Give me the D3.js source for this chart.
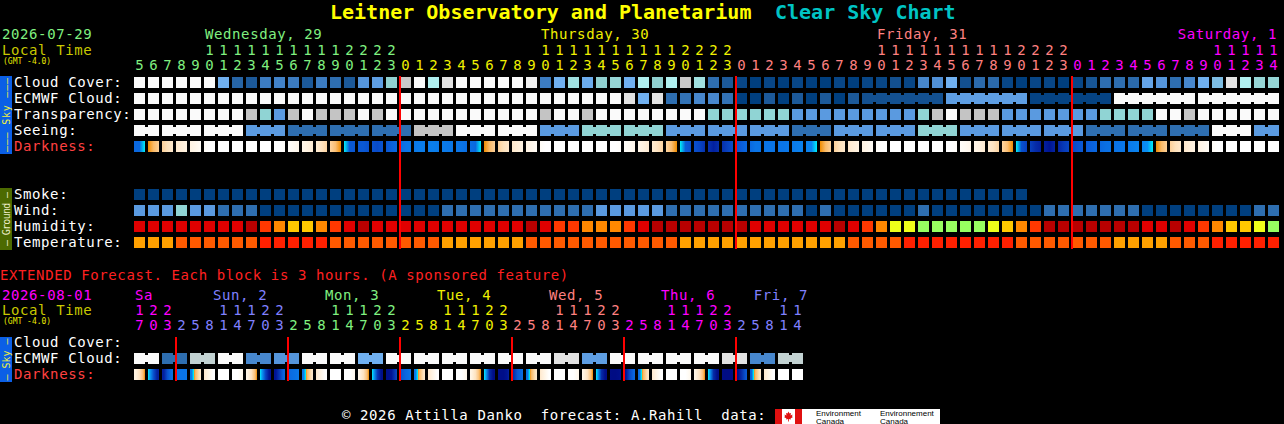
<!DOCTYPE html>
<html>
<head>
<meta charset="utf-8">
<script src="https://cdnjs.cloudflare.com/ajax/libs/d3/7.8.5/d3.min.js"></script>
<style>
  html, body { margin: 0; padding: 0; background: #000; }
  svg { display: block; }
  text { font-family: "DejaVu Sans Mono", monospace; }
</style>
</head>
<body>
<div class="chart"></div>
<script>
var W = 1284, H = 424;

// ---- main forecast, one block per hour
var mainDate = "2026-07-29";
var mainDayNames = ["Wednesday, 29", "Thursday, 30", "Friday, 31", "Saturday, 1"];
var mainDayHours = [[5, 23], [0, 23], [0, 23], [0, 14]];
var mainDayColors = ["#80f080", "#f0f000", "#ff8080", "#ff00ff"];

var skyRows = ["Cloud Cover:", "ECMWF Cloud:", "Transparency:", "Seeing:", "Darkness:"];
var groundRows = ["Smoke:", "Wind:", "Humidity:", "Temperature:"];

// cloud cover, percent
var cloudCover = [100, 100, 100, 100, 100, 100, 60, 25, 18, 37, 40, 37, 18, 37, 30, 18, 48, 52, 70, 88,
  100, 80, 95, 100, 100, 100, 100, 100, 98, 37, 60, 75, 58, 70, 72, 60, 80, 70, 80, 88, 75, 30, 18,
  5, 0, 5, 0, 5, 0, 0, 5, 0, 5, 5, 12, 5, 42, 46, 60, 12, 28, 28, 5, 0, 5, 5, 0,
  5, 15, 30, 30, 28, 55, 48, 30, 42, 60, 64, 95, 80, 72, 72];
// ECMWF cloud, percent: hourly, then 6-hourly
var ecmwfHourly = [100, 100, 100, 100, 100, 100, 100, 100, 100, 100, 100, 100, 100, 100, 100, 100, 100, 100, 100, 100,
  100, 100, 100, 100, 100, 100, 100, 100, 100, 100, 100, 100, 100, 100, 100, 95, 60, 95, 30, 32, 42, 42, 32,
  0, 0, 18, 0, 18, 0, 18, 0, 18];
var ecmwf6h = [12, 52, 3, 100, 100];
// transparency 0 too cloudy .. 5 transparent
var transparency = [0, 0, 0, 0, 0, 0, 0, 0, 1, 2, 3, 1, 0, 1, 1, 1, 0, 1, 0,
  0, 0, 0, 0, 0, 0, 0, 0, 0, 0, 1, 0, 0, 1, 0, 0, 0, 0, 0, 0, 0, 0, 2, 2, 2, 2, 2, 2,
  3, 3, 3, 3, 3, 3, 3, 3, 3, 2, 1, 0, 1, 1, 1, 3, 3, 3, 3, 3, 3, 3, 2, 2, 2, 2, 0, 0, 1, 0, 0, 0, 0, 0, 0];
// seeing 0 too cloudy .. 5 excellent, 3-hourly
var seeing = [0, 0, 0, 3, 4, 4, 4, 1, 0, 0, 3, 2, 2, 3, 3, 3, 4, 3, 3, 2, 3, 3, 3, 4, 4, 4, 0, 3];
// darkness: < 0 daylight / twilight, >= 0 night (higher is darker)
var darkness = [2.5, -1.2, -2.2, -2.8, -3.3, -4, -4, -4, -4, -4, -4, -3.5, -3.0, -2.3, -1.3, 3.2, 3.2, 3.8, 2.8,
  2.0, 1.6, 1.5, 1.8, 2.0, 2.5, -1.2, -2.2, -2.8, -3.3, -4, -4, -4, -4, -4, -4, -3.5, -3.0, -2.3, -1.3,
  3.0, 4.0, 5.5, 4.2, 3.0, 2.0, 2.0, 2.0, 1.5, 1.2, -1.2, -2.2, -2.8, -3.3, -4, -4, -4, -4, -4, -4, -3.5, -3.0, -2.3, -1.3,
  3.5, 5.0, 6.0, 4.5, 3.5, 2.8, 2.2, 2.0, 1.5, 0.8, -1.2, -2.2, -2.8, -3.3, -4, -4, -4, -4, -4];
// smoke, ug/m3
var smoke = [0, 0, 0, 0, 0, 0, 0, 0, 0, 0, 0, 0, 0, 0, 0, 0, 0, 0, 0, 0, 0, 0, 0, 0, 0, 0, 0, 0, 0, 0, 0, 0,
  0, 0, 0, 0, 0, 0, 0, 0, 0, 0, 0, 0, 0, 0, 0, 0, 0, 0, 0, 0, 0, 0, 0, 0, 0, 0, 0, 0, 0, 0, 0, 0];
// wind, mph
var wind = [14, 14, 14, 20, 14, 14, 8, 8, 8, 3, 3, 3, 3, 3, 3, 3, 3, 3, 3, 3, 3, 3,
  8, 8, 8, 8, 8, 8, 8, 8, 8, 8, 8, 14, 14, 14, 14, 14, 8, 8, 8, 8, 8, 8, 8, 8, 8, 8,
  3, 8, 3, 3, 3, 3, 3, 3, 8, 3, 3, 3, 3, 3, 3, 3, 3, 8, 8, 8, 8, 8, 8, 8, 3, 3, 3, 3, 3, 3, 3, 3, 8, 8];
// humidity, percent
var humidity = [90, 90, 90, 90, 90, 90, 90, 90, 97, 82, 72, 62, 62, 72, 82, 90, 97,
  90, 90, 90, 90, 90, 90, 90, 90, 90, 90, 90, 97, 90, 82, 82, 72, 72, 72, 82, 90,
  97, 97, 97, 97, 97, 97, 97, 90, 90, 90, 90, 90, 90, 97, 90, 82, 72, 52, 52,
  42, 42, 42, 42, 42, 52, 62, 72, 82, 97, 97, 97, 97, 97, 97, 97, 90, 90, 97, 90, 82, 72, 62, 62, 52, 42];
// temperature, F
var temperature = [61, 61, 61, 66, 66, 66, 66, 66, 66, 71, 71, 71, 71, 71, 66, 66, 66, 66, 66, 66, 66, 66,
  61, 61, 61, 61, 61, 61, 66, 66, 66, 66, 66, 66, 66, 66, 66, 66, 66,
  61, 61, 61, 61, 61, 61, 61, 61, 61, 61, 61, 61, 66, 66, 66, 66,
  71, 71, 71, 71, 71, 71, 71, 71, 66, 66, 66, 66, 66, 66, 66, 61, 61, 61, 61, 66, 66, 66, 71, 71, 71, 71, 71];

// ---- extended forecast, one block per 3 hours
var extDate = "2026-08-01";
var extDayNames = ["Sa", "Sun, 2", "Mon, 3", "Tue, 4", "Wed, 5", "Thu, 6", "Fri, 7"];
var extDayHours = [[17, 23], [2, 23], [2, 23], [2, 23], [2, 23], [2, 23], [2, 14]];
var extDayColors = ["#ff00ff", "#8080ff", "#80f080", "#f0f000", "#ff8080", "#ff00ff", "#8080ff"];
var extRows = ["Cloud Cover:", "ECMWF Cloud:", "Darkness:"];
var extCloud = [];
var extEcmwf = [100, 30, 86, 100, 42, 48, 100, 100, 60, 100, 100, 100, 100, 100, 100, 95, 52, 100, 100, 100, 100, 95, 42, 86];
var extDarkness = [
  [-3.0, -2.3, -1.3], [0.5, 3.5, 5.5], [5.5, 3.5, 2.2],
  [2.0, 2.0, 2.0], [1.5, -1.2, -2.2], [-2.8, -3.3, -4], [-4, -4, -4], [-4, -4, -3.5], [-3.0, -2.3, -1.3], [0.5, 4.0, 6.0], [6.0, 4.5, 2.8],
  [2.4, 2.2, 2.0], [1.5, -1.2, -2.2], [-2.8, -3.3, -4], [-4, -4, -4], [-4, -4, -3.5], [-3.0, -2.3, -1.3], [0.5, 4.5, 6.2], [6.2, 6.0, 4.5],
  [3.2, 2.6, 2.2], [1.5, -1.2, -2.2], [-2.8, -3.3, -4], [-4, -4, -4], [-4, -4, -3.5], [-3.0, -2.3, -1.3], [0.5, 5.0, 6.3], [6.3, 6.3, 6.0],
  [4.8, 3.2, 2.5], [1.8, -1.2, -2.2], [-2.8, -3.3, -4], [-4, -4, -4], [-4, -4, -3.5], [-3.0, -2.3, -1.3], [0.5, 5.0, 6.3], [6.4, 6.4, 6.3],
  [6.0, 4.0, 2.8], [2.0, -1.2, -2.2], [-2.8, -3.3, -4], [-4, -4, -4], [-4, -4, -3.5], [-3.0, -2.3, -1.3], [0.5, 5.0, 6.3], [6.4, 6.4, 6.4],
  [6.3, 5.0, 3.5], [2.5, -1.2, -2.2], [-2.8, -3.3, -4], [-4, -4, -4], [-4, -4, -4]
];

// ---- colour scales
var cloudColor = d3.scaleLinear()
  .domain([0, 20, 30, 40, 50, 60, 70, 80, 88, 95, 100])
  .range(["#003f7f", "#1f5c9c", "#2e6eb0", "#4282c8", "#5a9ae0", "#70b0f0", "#90d0d0", "#b0f0f0", "#c8c8c8", "#e2e2e2", "#fafafa"])
  .clamp(true);
var qualityColor = d3.scaleOrdinal().domain([0, 1, 2, 3, 4, 5])
  .range(["#fafafa", "#c4c4c4", "#90d4d4", "#5a9ae0", "#2e6eb0", "#003f7f"]);
var smokeColor = d3.scaleThreshold().domain([2]).range(["#003f7f", "#2e6eb0"]);
var windColor = d3.scaleThreshold().domain([6, 12, 17, 29])
  .range(["#003f7f", "#2e6eb0", "#5a9ae0", "#90d4d4", "#c8c8c8"]);
var humidColor = d3.scaleThreshold().domain([35, 45, 55, 65, 75, 85, 95])
  .range(["#50e0a0", "#98ff60", "#eeff1a", "#ffc800", "#ff8800", "#ff3800", "#e00000", "#b80000"]);
var tempColor = d3.scaleThreshold().domain([59, 64, 68, 73])
  .range(["#ffd000", "#ffa000", "#ff5a00", "#ff2000", "#d00000"]);
var darkColor = d3.scaleLinear()
  .domain([-4, -3.5, -3, -2.5, -2, -1.5, -1, -0.5, -0.01, 0, 0.3, 1, 2, 3, 4, 5, 6, 6.5])
  .range(["#ffffff", "#fffaf2", "#fff2e0", "#fee8cc", "#fddcb0", "#fcc88a", "#f8b050", "#f49a20", "#f08c00",
    "#00f0f8", "#08a8f8", "#0a88f0", "#0a74e6", "#0a5cd8", "#0846c4", "#062ca8", "#001494", "#000a80"])
  .clamp(true);

var charW = 9.03;

var svg = d3.select(".chart").append("svg").attr("width", W).attr("height", H);
svg.append("rect").attr("width", W).attr("height", H).attr("fill", "#000");
var defs = svg.append("defs");

function text(g, x, y, str, color, size) {
  var t = g.append("text").attr("x", x).attr("y", y).attr("fill", color)
    .style("font-size", (size || 14) + "px").text(str);
  if (!size || size === 14) t.style("letter-spacing", "0.6px");
  return t;
}

function buildColumns(hours, step) {
  var cols = [];
  hours.forEach(function(h, d) {
    d3.range(h[0], h[1] + 1, step).forEach(function(hour) {
      cols.push({ id: cols.length, day: d, hour: hour });
    });
  });
  return cols;
}

function bandX(cols) {
  return d3.scaleBand().domain(cols.map(function(c) { return c.id; }))
    .range([134, 134 + cols.length * 14 - 3]).paddingInner(3 / 14);
}

function bandY(rows, top) {
  return d3.scaleBand().domain(rows).range([top, top + rows.length * 16 - 5]).paddingInner(5 / 16);
}

function hourlySpans(values, start) {
  return values.map(function(v, i) { return { start: start + i, len: 1, value: v }; });
}

function groupSpans(values, start, len) {
  return values.map(function(v, i) { return { start: start + i * len, len: len, value: v }; });
}

function drawSpans(g, spans, x, top, h, color) {
  var bw = x.bandwidth(), step = x.step();
  var cells = [], links = [];
  spans.forEach(function(s) {
    for (var k = 0; k < s.len; k++) {
      cells.push({ col: s.start + k, value: s.value });
      if (k < s.len - 1) links.push({ col: s.start + k, value: s.value });
    }
  });
  g.append("g").selectAll("rect").data(cells).enter().append("rect")
    .attr("x", function(d) { return x(d.col); })
    .attr("y", top).attr("width", bw).attr("height", h)
    .attr("fill", function(d) { return color(d.value); });
  g.append("g").selectAll("rect").data(links).enter().append("rect")
    .attr("x", function(d) { return x(d.col) + bw; })
    .attr("y", top + 2).attr("width", step - bw).attr("height", h - 4)
    .attr("fill", function(d) { return color(d.value); });
}

function edgeValue(inner, outer) {
  if (outer === undefined) return inner;
  if ((inner >= 0) === (outer >= 0)) return (inner + outer) / 2;
  return inner >= 0 ? 0 : -0.01;
}

function darkStops(samples, b, n) {
  var first = b * n, last = first + n - 1, stops = [];
  stops.push([0, edgeValue(samples[first], samples[first - 1])]);
  for (var j = 0; j < n; j++) {
    var v = samples[first + j];
    if (j > 0) {
      var p = samples[first + j - 1];
      if ((p >= 0) !== (v >= 0)) {
        stops.push([j / n, p >= 0 ? 0 : -0.01]);
        stops.push([j / n, v >= 0 ? 0 : -0.01]);
      }
    }
    stops.push([(j + 0.5) / n, v]);
  }
  stops.push([1, edgeValue(samples[last], samples[last + 1])]);
  return stops;
}

function drawDarkness(g, samples, n, x, top, h, prefix) {
  var blocks = d3.range(samples.length / n).map(function(b) {
    return { b: b, stops: darkStops(samples, b, n) };
  });
  defs.selectAll(null).data(blocks).enter().append("linearGradient")
    .attr("id", function(d) { return prefix + d.b; })
    .selectAll("stop").data(function(d) { return d.stops; }).enter().append("stop")
    .attr("offset", function(s) { return s[0]; })
    .attr("stop-color", function(s) { return darkColor(s[1]); });
  g.append("g").selectAll("rect").data(blocks).enter().append("rect")
    .attr("x", function(d) { return x(d.b); })
    .attr("y", top).attr("width", x.bandwidth()).attr("height", h)
    .attr("fill", function(d) { return "url(#" + prefix + d.b + ")"; });
}

function drawHeader(g, cfg) {
  var x = cfg.x, cols = cfg.cols, mid = x.bandwidth() / 2;
  text(g, 2, cfg.yDay, cfg.date, cfg.colors[0]);
  text(g, 2, cfg.yTens, "Local Time", "#c8c800");
  text(g, 3, cfg.yTens + 9, "(GMT -4.0)", "#e8e800", 8);
  cfg.names.forEach(function(name, d) {
    var dayCols = cols.filter(function(c) { return c.day === d; });
    var at = dayCols.filter(function(c) { return c.hour === cfg.labelHour; })[0];
    var lx = at ? x(at.id) + cfg.labelOffset : x(dayCols[0].id) + 1;
    lx = Math.min(lx, cfg.clampEnd - name.length * charW);
    text(g, lx, cfg.yDay, name, cfg.colors[d]);
  });
  g.append("g").selectAll("text").data(cols.filter(function(c) { return c.hour >= 10; }))
    .enter().append("text")
    .attr("x", function(c) { return x(c.id) + mid; }).attr("y", cfg.yTens)
    .attr("text-anchor", "middle").style("font-size", "14px")
    .attr("fill", function(c) { return cfg.colors[c.day]; })
    .text(function(c) { return Math.floor(c.hour / 10); });
  g.append("g").selectAll("text").data(cols).enter().append("text")
    .attr("x", function(c) { return x(c.id) + mid; }).attr("y", cfg.yUnits)
    .attr("text-anchor", "middle").style("font-size", "14px")
    .attr("fill", function(c) { return cfg.colors[c.day]; })
    .text(function(c) { return c.hour % 10; });
}

function rowLabels(g, rows, y) {
  rows.forEach(function(r) {
    text(g, 14, y(r) + 10, r, r === "Darkness:" ? "#ff4040" : "#ffffff");
  });
}

function sideBar(g, top, bottom, fill, str, color, len) {
  g.append("rect").attr("x", 0).attr("y", top).attr("width", 12).attr("height", bottom - top).attr("fill", fill);
  g.append("text").attr("transform", "translate(9.5," + ((top + bottom) / 2) + ") rotate(-90)")
    .attr("text-anchor", "middle").attr("fill", color).style("font-size", "10px")
    .attr("textLength", len).attr("lengthAdjust", "spacing")
    .attr("xml:space", "preserve").style("white-space", "pre")
    .text(str);
}

function redLines(g, cols, x, top, bottom) {
  var starts = cols.filter(function(c, i) { return i > 0 && c.day !== cols[i - 1].day; });
  g.append("g").selectAll("rect").data(starts).enter().append("rect")
    .attr("x", function(c) { return x(c.id) - 1; }).attr("y", top)
    .attr("width", 2).attr("height", bottom - top).attr("fill", "#ff0000");
}

// ---- title
text(svg, 330, 19, "Leitner Observatory and Planetarium", "#ffff00", 20).style("font-weight", "bold");
text(svg, 775, 19, "Clear Sky Chart", "#00c4c4", 20).style("font-weight", "bold");

// ---- main chart
var mainCols = buildColumns(mainDayHours, 1);
var xMain = bandX(mainCols);
var ySky = bandY(skyRows, 77);
var yGround = bandY(groundRows, 189);
var bh = ySky.bandwidth();
var main = svg.append("g");

drawHeader(main, { x: xMain, cols: mainCols, names: mainDayNames, colors: mainDayColors, date: mainDate,
  yDay: 39, yTens: 55, yUnits: 70, labelHour: 10, labelOffset: 1, clampEnd: 1277 });
rowLabels(main, skyRows, ySky);
rowLabels(main, groundRows, yGround);
sideBar(main, 76, 154, "#0b5fe6", "\u2014\u2014\u2014 Sky \u2014\u2014\u2014", "#f0f040", 74);
sideBar(main, 188, 250, "#4c6a00", "\u2014 Ground \u2014", "#eeeec8", 54);

var seeingStarts = mainCols.filter(function(c) { return c.id === 0 || (c.hour - 1) % 3 === 0; })
  .map(function(c) { return c.id; });
var seeingSpans = seeing.map(function(v, i) {
  var s = seeingStarts[i], e = i + 1 < seeingStarts.length ? seeingStarts[i + 1] : mainCols.length;
  return { start: s, len: e - s, value: v };
});

drawSpans(main, hourlySpans(cloudCover, 0), xMain, ySky("Cloud Cover:"), bh, cloudColor);
drawSpans(main, hourlySpans(ecmwfHourly, 0).concat(groupSpans(ecmwf6h, ecmwfHourly.length, 6)),
  xMain, ySky("ECMWF Cloud:"), bh, cloudColor);
drawSpans(main, hourlySpans(transparency, 0), xMain, ySky("Transparency:"), bh, qualityColor);
drawSpans(main, seeingSpans, xMain, ySky("Seeing:"), bh, qualityColor);
drawDarkness(main, darkness, 1, xMain, ySky("Darkness:"), bh, "dm");
drawSpans(main, hourlySpans(smoke, 0), xMain, yGround("Smoke:"), bh, smokeColor);
drawSpans(main, hourlySpans(wind, 0), xMain, yGround("Wind:"), bh, windColor);
drawSpans(main, hourlySpans(humidity, 0), xMain, yGround("Humidity:"), bh, humidColor);
drawSpans(main, hourlySpans(temperature, 0), xMain, yGround("Temperature:"), bh, tempColor);
redLines(main, mainCols, xMain, 76, 249);

// ---- extended chart
text(svg, 0, 280, "EXTENDED Forecast. Each block is 3 hours. (A sponsored feature)", "#ff2020");
var extCols = buildColumns(extDayHours, 3);
var xExt = bandX(extCols);
var yExt = bandY(extRows, 337);
var ext = svg.append("g");

drawHeader(ext, { x: xExt, cols: extCols, names: extDayNames, colors: extDayColors, date: extDate,
  yDay: 300, yTens: 315, yUnits: 330, labelHour: 11, labelOffset: -5, clampEnd: 808 });
rowLabels(ext, extRows, yExt);
sideBar(ext, 337, 382, "#0b5fe6", "\u2014 Sky \u2014", "#f0f040", 42);
drawSpans(ext, hourlySpans(extCloud, 0), xExt, yExt("Cloud Cover:"), bh, cloudColor);
drawSpans(ext, groupSpans(extEcmwf, 0, 2), xExt, yExt("ECMWF Cloud:"), bh, cloudColor);
drawDarkness(ext, d3.merge(extDarkness), 3, xExt, yExt("Darkness:"), bh, "de");
redLines(ext, extCols, xExt, 337, 381);

// ---- footer
text(svg, 342, 420, "\u00a9 2026 Attilla Danko  forecast: A.Rahill  data:", "#ffffff")
  .attr("xml:space", "preserve").style("white-space", "pre");
var logo = svg.append("g");
logo.append("rect").attr("x", 775).attr("y", 409).attr("width", 165).attr("height", 15).attr("fill", "#ffffff");
logo.append("rect").attr("x", 775).attr("y", 409).attr("width", 7).attr("height", 15).attr("fill", "#e01010");
logo.append("rect").attr("x", 795).attr("y", 409).attr("width", 7).attr("height", 15).attr("fill", "#e01010");
logo.append("path")
  .attr("d", "M0,-5L1,-3L2.5,-3.5L2,-1L4,-2L3.5,0L4.5,0.5L2,2L2.5,3L0.4,2.6L0.4,5L-0.4,5L-0.4,2.6L-2.5,3L-2,2L-4.5,0.5L-3.5,0L-4,-2L-2,-1L-2.5,-3.5L-1,-3Z")
  .attr("transform", "translate(788.5,416.5)").attr("fill", "#e01010");
[["Environment", 816], ["Environnement", 880]].forEach(function(l) {
  logo.append("text").attr("x", l[1]).attr("y", 416).attr("fill", "#000")
    .style("font-family", "'Liberation Sans', sans-serif").style("font-size", "8px").text(l[0]);
  logo.append("text").attr("x", l[1]).attr("y", 423.5).attr("fill", "#000")
    .style("font-family", "'Liberation Sans', sans-serif").style("font-size", "8px").text("Canada");
});
</script>
</body>
</html>
